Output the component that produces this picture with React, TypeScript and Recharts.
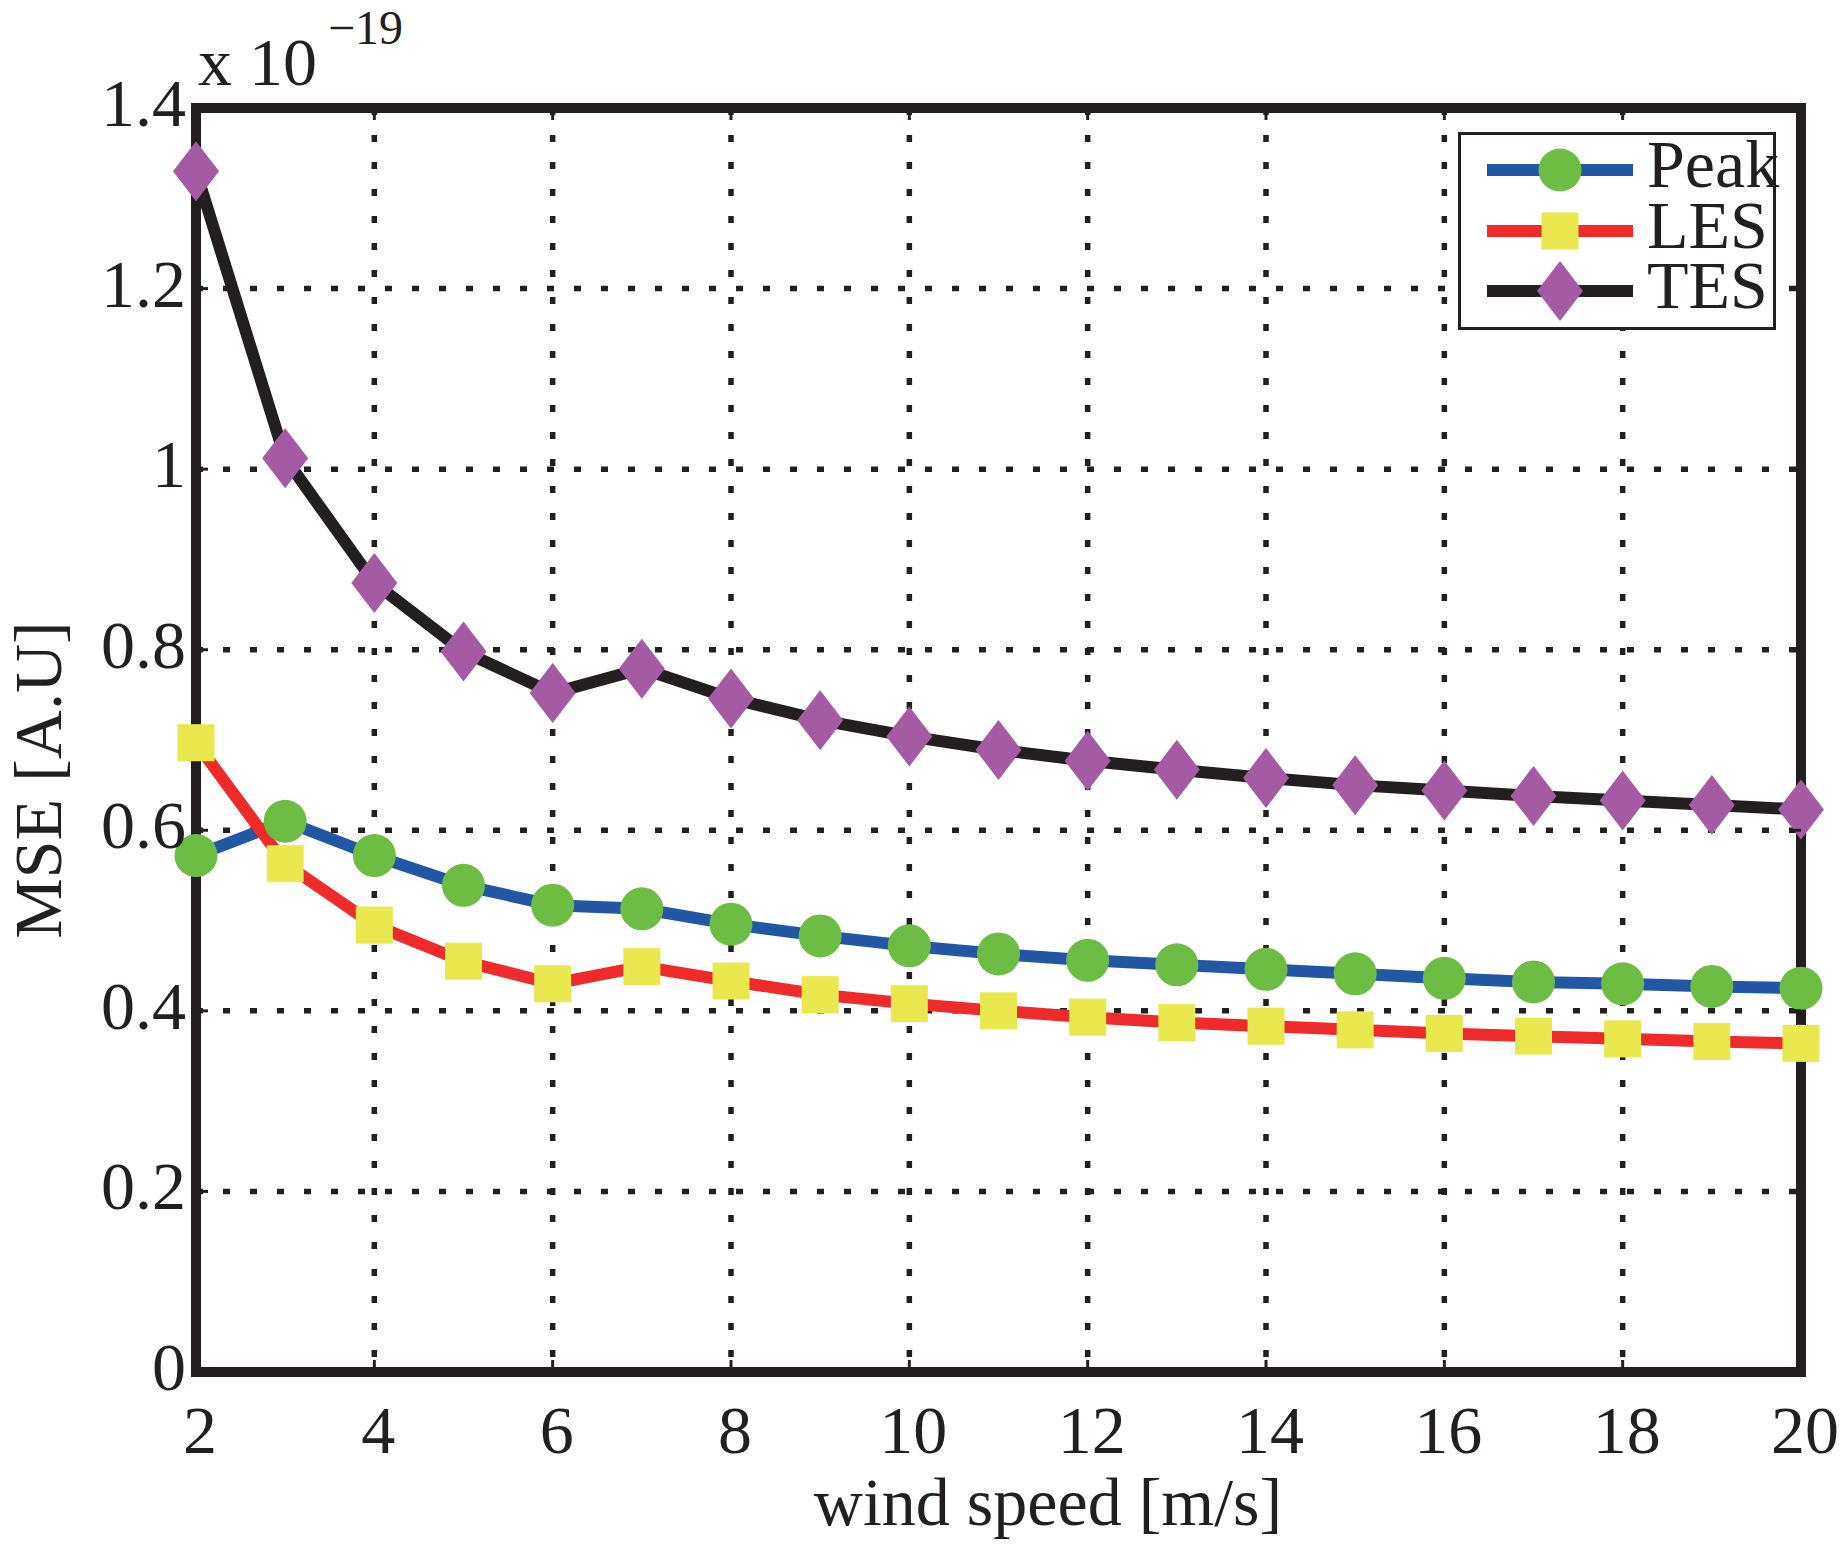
import React from 'react';
import { LineChart, Line, XAxis, YAxis, CartesianGrid, Legend, Label } from 'recharts';

// ---- data ----
const windSpeed = [2, 3, 4, 5, 6, 7, 8, 9, 10, 11, 12, 13, 14, 15, 16, 17, 18, 19, 20];
const peakMse = [0.572, 0.61, 0.572, 0.539, 0.517, 0.513, 0.496, 0.483, 0.472, 0.463, 0.456, 0.451, 0.446, 0.441, 0.436, 0.432, 0.43, 0.427, 0.425];
const lesMse = [0.697, 0.563, 0.495, 0.455, 0.43, 0.449, 0.433, 0.418, 0.408, 0.4, 0.393, 0.387, 0.383, 0.379, 0.375, 0.372, 0.369, 0.366, 0.364];
const tesMse = [1.33, 1.012, 0.874, 0.798, 0.752, 0.779, 0.746, 0.722, 0.704, 0.689, 0.677, 0.667, 0.658, 0.65, 0.644, 0.638, 0.633, 0.628, 0.623];
const xTicks = [2, 4, 6, 8, 10, 12, 14, 16, 18, 20];
const yTicks = [0, 0.2, 0.4, 0.6, 0.8, 1, 1.2, 1.4];
const seriesNames = ['Peak', 'LES', 'TES'];
const xLabel = 'wind speed [m/s]';
const yLabel = 'MSE [A.U]';
const scaleBase = 'x 10';
const scaleExp = '\u221219';

const data = windSpeed.map((w, i) => ({ w, Peak: peakMse[i], LES: lesMse[i], TES: tesMse[i] }));

// ---- layout & style ----
const W = 1848;
const H = 1545;
const PL = 196;
const PR = 1801;
const PT = 108;
const PB = 1372;
const FONT = '"Liberation Serif", "Times New Roman", Times, serif';
const INK = '#231f20';
const FS = 68;

const STYLE: Record<string, { line: string; fill: string; shape: string }> = {
  Peak: { line: '#2257a6', fill: '#6dbd45', shape: 'circle' },
  LES: { line: '#ee2a2b', fill: '#eae84f', shape: 'square' },
  TES: { line: '#231f20', fill: '#a45ba3', shape: 'diamond' },
};

function Marker({ shape, cx, cy, fill }: { shape: string; cx: number; cy: number; fill: string }) {
  if (shape === 'circle') return <circle cx={cx} cy={cy} r={21.5} fill={fill} />;
  if (shape === 'square') return <rect x={cx - 18.5} y={cy - 18.5} width={37} height={37} fill={fill} />;
  return (
    <polygon
      points={`${cx},${cy - 30} ${cx + 23},${cy} ${cx},${cy + 30} ${cx - 23},${cy}`}
      fill={fill}
    />
  );
}

const YTick = (props: any) => {
  const { y, payload } = props;
  const edge = payload.value === 0 || payload.value === 1.4;
  return (
    <g>
      {!edge && <line x1={PL} x2={PL + 12} y1={y} y2={y} stroke={INK} strokeWidth={3} />}
      {!edge && <line x1={PR - 12} x2={PR} y1={y} y2={y} stroke={INK} strokeWidth={3} />}
      <text x={186} y={y + 18} textAnchor="end" fontSize={FS} fontFamily={FONT} fill={INK}>
        {String(payload.value)}
      </text>
    </g>
  );
};

const XTick = (props: any) => {
  const { x, payload } = props;
  const edge = payload.value === 2 || payload.value === 20;
  return (
    <g>
      {!edge && <line x1={x} x2={x} y1={PB} y2={PB - 12} stroke={INK} strokeWidth={3} />}
      {!edge && <line x1={x} x2={x} y1={PT} y2={PT + 12} stroke={INK} strokeWidth={3} />}
      <text x={x + 4} y={1453} textAnchor="middle" fontSize={FS} fontFamily={FONT} fill={INK}>
        {String(payload.value)}
      </text>
    </g>
  );
};

const LegendBox = () => {
  const rows = [46, 107, 167];
  return (
    <svg width={340} height={215} style={{ display: 'block', overflow: 'visible' }}>
      <rect x={9.5} y={9.5} width={315} height={195} fill="#ffffff" stroke={INK} strokeWidth={3} />
      {seriesNames.map((name, i) => (
        <g key={name}>
          <line x1={37} x2={183} y1={rows[i]} y2={rows[i]} stroke={STYLE[name].line} strokeWidth={12} />
          <Marker shape={STYLE[name].shape} cx={110} cy={rows[i]} fill={STYLE[name].fill} />
          <text x={197} y={rows[i] + 17} fontSize={FS} fontFamily={FONT} fill={INK}>
            {name}
          </text>
        </g>
      ))}
    </svg>
  );
};

const frameRows = ({ offset }: any) => [offset.top, offset.top + offset.height];
const frameCols = ({ offset }: any) => [offset.left, offset.left + offset.width];

export default function App() {
  return (
    <div style={{ position: 'absolute', left: 0, top: 0, width: W, height: H, background: '#ffffff' }}>
      <LineChart width={W} height={H} data={data} margin={{ top: PT, right: W - PR, left: 0, bottom: 0 }}>
        <CartesianGrid stroke={INK} strokeWidth={5.5} strokeDasharray="7 20" />
        <CartesianGrid
          stroke={INK}
          strokeWidth={10}
          strokeLinecap="square"
          horizontalCoordinatesGenerator={frameRows}
          verticalCoordinatesGenerator={frameCols}
        />
        <XAxis
          dataKey="w"
          type="number"
          domain={[2, 20]}
          ticks={xTicks}
          interval={0}
          height={H - PB}
          axisLine={false}
          tickLine={false}
          tick={<XTick />}
        >
          <Label
            content={() => (
              <text x={1048} y={1525} textAnchor="middle" fontSize={FS} fontFamily={FONT} fill={INK}>
                {xLabel}
              </text>
            )}
          />
        </XAxis>
        <YAxis
          type="number"
          domain={[0, 1.4]}
          ticks={yTicks}
          interval={0}
          width={PL}
          axisLine={false}
          tickLine={false}
          tick={<YTick />}
        >
          <Label
            content={() => (
              <g>
                <text
                  transform="translate(61,780) rotate(-90)"
                  textAnchor="middle"
                  fontSize={FS}
                  fontFamily={FONT}
                  fill={INK}
                >
                  {yLabel}
                </text>
                <text x={198} y={85} fontSize={FS} fontFamily={FONT} fill={INK}>
                  {scaleBase}
                </text>
                <text x={328} y={44} fontSize={48} fontFamily={FONT} fill={INK}>
                  {scaleExp}
                </text>
              </g>
            )}
          />
        </YAxis>
        {seriesNames.map((name) => (
          <Line
            key={name}
            dataKey={name}
            type="linear"
            stroke={STYLE[name].line}
            strokeWidth={12}
            isAnimationActive={false}
            activeDot={false}
            dot={(p: any) => (
              <Marker key={`${name}-${p.index}`} shape={STYLE[name].shape} cx={p.cx} cy={p.cy} fill={STYLE[name].fill} />
            )}
          />
        ))}
        <Legend
          layout="horizontal"
          verticalAlign="middle"
          align="center"
          wrapperStyle={{ position: 'absolute', left: 1450, top: 124, width: 340, height: 215, margin: 0, padding: 0 }}
          content={() => <LegendBox />}
        />
      </LineChart>
    </div>
  );
}
